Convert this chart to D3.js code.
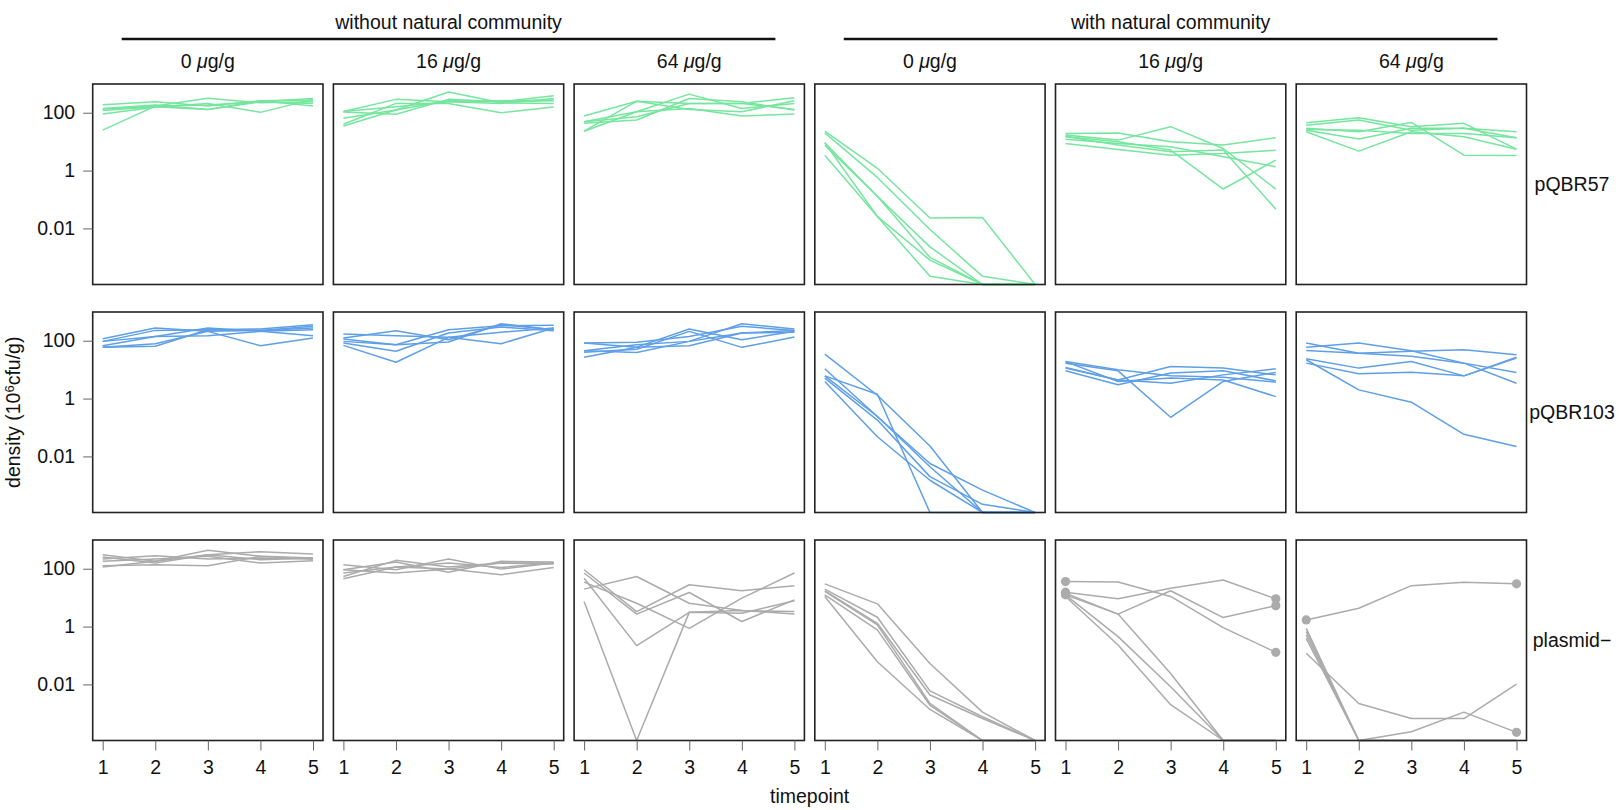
<!DOCTYPE html>
<html>
<head>
<meta charset="utf-8">
<script src="https://cdn.jsdelivr.net/npm/d3@7"></script>
<style>
  body { margin: 0; background: #fff; }
  text { font-family: "Liberation Sans", Arial, Helvetica, sans-serif; fill: #111; }
</style>
</head>
<body>
<script>
(function () {
  'use strict';

  // lowest density shown (lines that drop out end on the panel floor)
  var LOD = 1.15e-4;

  var plasmids = ["pQBR57", "pQBR103", "plasmid\u2212"];
  var communities = ["without natural community", "with natural community"];
  var doses = ["0", "16", "64"];
  var timepoints = [1, 2, 3, 4, 5];
  var yTicks = [100, 1, 0.01];
  var colours = ["#76e59e", "#5e9fe6", "#ababab"];

  // density (10^6 cfu/g): 6 panels (3 without, 3 with community), 6 replicates each
  var pQBR57 = [
    [[190,240,170,260,170],[135,170,315,220,240],[120,160,130,260,275],[90,155,210,103,290],[25,170,185,240,310],[140,185,130,240,210]],
    [[110,290,240,210,310],[105,88,290,240,260],[64,125,520,220,210],[40,210,210,100,157],[35,125,260,240,390],[110,160,240,260,275]],
    [[77,250,210,210,330],[49,108,440,140,210],[43,56,310,240,124],[23,108,140,77,90],[23,250,130,108,260],[49,73,210,210,130]],
    [[23,1.2,0.023,0.024,LOD],[20,0.58,0.0092,0.00022,LOD],[9.2,0.13,0.0023,LOD,LOD],[7.6,0.13,0.001,LOD,LOD],[3.4,0.026,0.0008,LOD,LOD],[9.2,0.026,0.00022,LOD,LOD]],
    [[19,20,9.9,7.6,13.6],[17,11.3,33,5.8,0.23],[15,9.9,5.1,0.23,2.3],[12,8.7,6.7,3.0,1.35],[8.7,5.4,3.4,3.9,5.0],[15,7.6,4.5,5.1,0.046]],
    [[45,67,33,43,5.5],[37,56,25,29,13.6],[29,22,46,3.4,3.3],[25,12.3,29,29,22],[22,4.7,22,14.8,5.5],[26.5,25,19.3,19.3,13.6]]
  ];

  var pQBR103 = [
    [[117,275,211,228,314],[95,228,241,254,359],[67,141,275,211,241],[60,64,241,228,275],[60,79,211,67,124],[95,141,149,211,149]],
    [[170,149,131,195,275],[124,222,108,359,241],[95,73,241,331,340],[83,43,185,298,222],[69,18,131,79,275],[114,73,90,389,241]],
    [[83,88,141,314,228],[83,60,254,108,211],[45,73,95,389,254],[40,51,211,59,134],[27,60,67,185,195],[45,39,95,185,228]],
    [[34.5,1.3,0.023,LOD,LOD],[6.1,1.41,LOD,LOD,LOD],[10.7,0.24,0.0057,0.00068,LOD],[5.1,0.18,0.002,0.00022,LOD],[3.9,0.048,0.0015,LOD,LOD],[6.1,0.24,0.0044,LOD,LOD]],
    [[19,9.9,6.1,5.5,3.7],[16.8,9.1,0.225,3.9,8.0],[11.9,4.4,12.9,11.3,6.6],[9.1,3.0,7.6,9.1,4.1],[19,3.9,5.1,4.4,1.17],[11.3,4.4,3.4,6.6,10.7]],
    [[83,37,29,16.8,3.4],[59,83,45,16.8,8.0],[46,37,43,49,33],[24,11.3,19,6.1,27],[16.8,7.2,8.2,6.1,25],[22,2.0,0.75,0.058,0.022]]
  ];

  var plasmidFree = [
    [[306,180,433,268,234],[254,157,306,389,323],[216,282,216,234,216],[180,216,268,157,189],[127,138,127,268,216],[114,180,306,205,234]],
    [[138,92,216,97,157],[92,170,75,180,170],[54,195,114,157,145],[45,114,157,111,157],[92,71,97,62,111],[71,114,97,157,157]],
    [[19.7,54,6.4,3.6,3.3],[92,3.3,28,17.3,26],[71,2.7,15.1,1.5,8.4],[47,0.22,3.1,2.9,7.8],[34.5,6.4,0.87,9.6,71],[7.4,LOD,3.1,3.6,2.7]],
    [[30,6.1,0.053,0.0011,LOD],[19.7,2.1,0.006,0.00076,LOD],[17.3,1.3,0.0043,0.00066,LOD],[12.5,0.77,0.0019,LOD,LOD],[11,0.061,0.00136,LOD,LOD],[16.4,1.14,0.0022,LOD,LOD]],
    [[36,34.5,11,0.92,0.129],[15.5,9.1,21,41,9.1],[12.5,2.7,17.3,2.05,5.3],[14.3,2.7,0.024,LOD,LOD],[12.5,0.45,0.0083,LOD,LOD],[11,0.23,0.002,LOD,LOD]],
    [[1.7,4.3,26,34,30],[0.119,0.0022,0.00066,0.00066,0.0103],[0.39,LOD,0.00023,0.0011,0.00022],[0.87,LOD,LOD,LOD,LOD],[0.67,LOD,LOD,LOD,LOD],[0.51,LOD,LOD,LOD,LOD]]
  ];

  // highlighted observations: [row, panel, replicate, timepoint]
  var markers = [[2,4,0,1],[2,4,0,5],[2,4,1,1],[2,4,1,5],[2,4,2,1],[2,4,2,5],[2,5,0,1],[2,5,0,5],[2,5,2,5]];

  var rows = [pQBR57, pQBR103, plasmidFree];

  var W = 1619, H = 810;
  var left = 92.7, top = 84;
  var panelW = 230.3, panelH = 200.5, stepX = 240.7, stepY = 228;
  var fs = 19.5;

  var svg = d3.select("body").append("svg")
    .attr("width", W)
    .attr("height", H);

  var x = d3.scaleLinear().domain([1, 5]).range([10, panelW - 10]);
  var y = d3.scaleLog().domain([LOD, 985]).range([panelH, 0]).clamp(true);

  var line = d3.line()
    .x(function (d, i) { return x(timepoints[i]); })
    .y(function (d) { return y(d); });

  rows.forEach(function (panels, r) {
    panels.forEach(function (series, c) {
      var g = svg.append("g")
        .attr("transform", "translate(" + (left + c * stepX) + "," + (top + r * stepY) + ")");

      g.selectAll("path.rep")
        .data(series)
        .enter()
        .append("path")
        .attr("class", "rep")
        .attr("d", line)
        .attr("fill", "none")
        .attr("stroke", colours[r])
        .attr("stroke-width", 1.5)
        .attr("stroke-linejoin", "round");

      g.selectAll("circle")
        .data(markers.filter(function (m) { return m[0] === r && m[1] === c; }))
        .enter()
        .append("circle")
        .attr("cx", function (m) { return x(m[3]); })
        .attr("cy", function (m) { return y(series[m[2]][m[3] - 1]); })
        .attr("r", 4.6)
        .attr("fill", colours[r]);

      g.append("rect")
        .attr("width", panelW)
        .attr("height", panelH)
        .attr("fill", "none")
        .attr("stroke", "#222")
        .attr("stroke-width", 1.6);

      if (c === 0) {
        var ya = g.append("g").call(
          d3.axisLeft(y).tickValues(yTicks).tickSize(9.5).tickPadding(8)
            .tickFormat(function (d) { return String(d); }));
        ya.select(".domain").remove();
        ya.selectAll("line").attr("stroke", "#666");
        ya.selectAll("text").attr("font-size", fs).attr("font-family", null).attr("fill", "#111");
      }
      if (r === 2) {
        var xa = g.append("g")
          .attr("transform", "translate(0," + panelH + ")")
          .call(d3.axisBottom(x).tickValues(timepoints).tickSize(10).tickPadding(10)
            .tickFormat(d3.format("d")));
        xa.select(".domain").remove();
        xa.selectAll("line").attr("stroke", "#666");
        xa.selectAll("text").attr("font-size", fs).attr("font-family", null).attr("fill", "#111");
      }
    });

    // plasmid label at right
    svg.append("text")
      .attr("x", 1572)
      .attr("y", top + r * stepY + panelH / 2)
      .attr("dy", "0.35em")
      .attr("text-anchor", "middle")
      .attr("font-size", fs)
      .text(plasmids[r]);
  });

  // column headers
  communities.forEach(function (name, k) {
    var x0 = left + k * 3 * stepX;
    var x1 = x0 + 2 * stepX + panelW;
    svg.append("text")
      .attr("x", (x0 + x1) / 2)
      .attr("y", 29)
      .attr("text-anchor", "middle")
      .attr("font-size", fs)
      .text(name);
    svg.append("line")
      .attr("x1", x0 + 29)
      .attr("x2", x1 - 29)
      .attr("y1", 39)
      .attr("y2", 39)
      .attr("stroke", "#111")
      .attr("stroke-width", 2.5);

    doses.forEach(function (dose, j) {
      var t = svg.append("text")
        .attr("x", x0 + j * stepX + panelW / 2)
        .attr("y", 68)
        .attr("text-anchor", "middle")
        .attr("font-size", fs);
      t.append("tspan").text(dose + " ");
      t.append("tspan").attr("font-style", "italic").text("\u03bc");
      t.append("tspan").text("g/g");
    });
  });

  // axis titles
  svg.append("text")
    .attr("x", left + (5 * stepX + panelW) / 2)
    .attr("y", 803)
    .attr("text-anchor", "middle")
    .attr("font-size", fs)
    .text("timepoint");

  var yt = svg.append("text")
    .attr("transform", "translate(20," + (top + (2 * stepY + panelH) / 2) + ") rotate(-90)")
    .attr("text-anchor", "middle")
    .attr("font-size", fs);
  yt.append("tspan").text("density (10");
  yt.append("tspan").attr("font-size", 13).attr("dy", "-0.5em").text("6");
  yt.append("tspan").attr("dy", "0.33em").text("cfu/g)");
})();
</script>
</body>
</html>
